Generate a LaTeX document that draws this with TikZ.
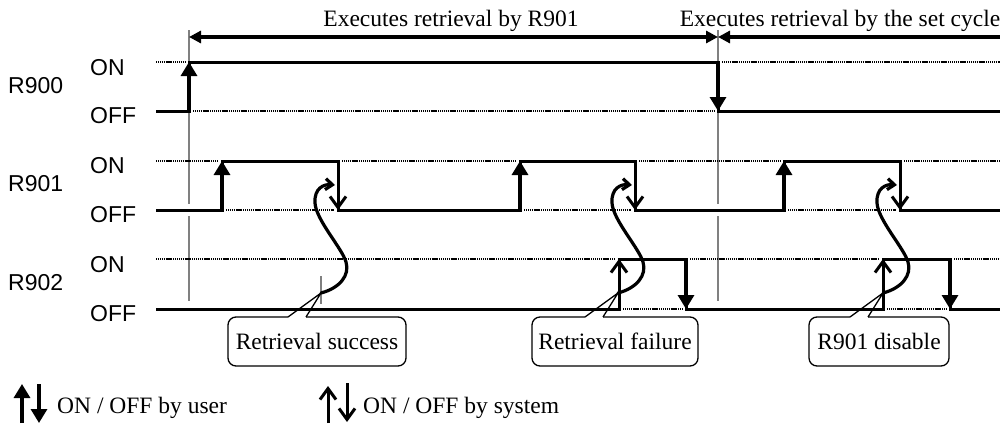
\documentclass[tikz,border=0pt]{standalone}
\usepackage{fontspec}
\setmainfont{Liberation Serif}
\newfontfamily\labelfont{Liberation Sans}
\usetikzlibrary{arrows.meta,calc}
\begin{document}
\begin{tikzpicture}[x=1pt,y=-1pt,
  wave/.style={line width=3pt, line join=miter},
  ref/.style={line width=2.2pt, dash pattern=on 1.2pt off 0.7pt},
  marker/.style={line width=1.4pt, black!50},
  user/.style={line width=3.2pt, -{Triangle[length=14pt,width=16pt]}},
  sys/.style={line width=3pt, -{Straight Barb[length=11pt,width=16pt]}},
  cause/.style={line width=3.2pt, line cap=round, -{Straight Barb[length=7pt,width=11pt]}},
  span/.style={line width=3.4pt},
  sig/.style={font=\labelfont\fontsize{23}{26}\selectfont, inner sep=0pt, anchor=west},
  txt/.style={font=\fontsize{23.5}{28}\selectfont, inner sep=0pt},
  callbox/.style={txt, draw, line width=1.3pt, rounded corners=8pt, minimum height=49pt},
  pointer/.style={line width=1.3pt},
]
\useasboundingbox (0,0) rectangle (1000,423);

% ---- signal names and levels
\node[sig] (n900) at (8,86) {R900};
\node[sig] (on900) at (90,68) {ON};
\node[sig] (off900) at (90,116) {OFF};
\node[sig] (n901) at (8,184) {R901};
\node[sig] (on901) at (90,166) {ON};
\node[sig] (off901) at (90,215) {OFF};
\node[sig] (n902) at (8,283) {R902};
\node[sig] (on902) at (90,265) {ON};
\node[sig] (off902) at (90,314) {OFF};

% ---- time markers
\draw[marker] (189,30) -- (189,204) (189,216) -- (189,301);
\draw[marker] (718,30) -- (718,204) (718,216) -- (718,301);
\draw[marker] (321,276) -- (321,304);

% ---- retrieval periods
\node[txt, anchor=base] (perA) at (451,27) {Executes retrieval by R901};
\node[txt, anchor=base] (perB) at (840,27) {Executes retrieval by the set cycle};
\coordinate (pA) at (189,37);
\coordinate (pB) at (718,37);
\coordinate (pC) at (1000,37);
\draw[span, {Triangle[length=12pt,width=12pt]}-{Triangle[length=12pt,width=12pt]}] (pA) -- (pB);
\draw[span, -{Triangle[length=12pt,width=12pt]}] (pC) -- (pB);

% ---- R900
\draw[ref] (156,62) -- (185,62) (722,62) -- (1000,62);
\draw[ref] (193,111) -- (714,111);
\draw[wave] (156,111) -- (189,111) -- (189,62) -- (718,62) -- (718,111) -- (1000,111);
\draw[user] (189,111) -- (189,62);
\draw[user] (718,62) -- (718,111);

% ---- R901
\draw[ref] (156,161) -- (218,161) (342,161) -- (516,161) (639,161) -- (780,161) (904,161) -- (1000,161);
\draw[ref] (226,210) -- (334,210) (524,210) -- (631,210) (788,210) -- (896,210);
\draw[wave] (156,210) -- (222,210) -- (222,161) -- (338,161) -- (338,210)
  -- (520,210) -- (520,161) -- (635,161) -- (635,210)
  -- (784,210) -- (784,161) -- (900,161) -- (900,210) -- (1000,210);
\foreach \r/\f in {222/338, 520/635, 784/900} {
  \draw[user] (\r,210) -- (\r,161);
  \draw[sys] (\f,161) -- (\f,210);
}

% ---- R902
\draw[ref] (156,259) -- (615,259) (690,259) -- (879,259) (954,259) -- (1000,259);
\draw[ref] (623,309) -- (682,309) (887,309) -- (946,309);
\draw[wave] (156,309) -- (619,309) -- (619,259) -- (686,259) -- (686,309)
  -- (883,309) -- (883,259) -- (950,259) -- (950,309) -- (1000,309);
\foreach \r/\f in {619/686, 883/950} {
  \draw[sys] (\r,309) -- (\r,259);
  \draw[user] (\f,259) -- (\f,309);
}

% ---- results: callouts and the turn-off of R901 they cause
\node[callbox, minimum width=178pt] (succ) at (317,341.5) {Retrieval success};
\node[callbox, minimum width=166pt] (fail) at (615,341.5) {Retrieval failure};
\node[callbox, minimum width=140pt] (dis)  at (879,341.5) {R901 disable};

\foreach \e in {338, 635, 900} {
  \coordinate (tip) at (\e-17,293);
  \coordinate (baseL) at (\e-50,317);
  \coordinate (baseR) at (\e-32,317);
  \draw[white, line width=2.4pt] (baseL) -- (baseR);
  \draw[pointer] (baseL) -- (tip) -- (baseR);
  \draw[cause] (tip) .. controls (\e+2,288) and (\e+12,275) .. (\e+8,262)
    .. controls (\e+4,248) and (\e-22,220) .. (\e-23,203)
    .. controls (\e-24,188) and (\e-14,184) .. (\e-3,185);
}

% ---- legend
\draw[user] (22,423) -- (22,384);
\draw[user] (39,384) -- (39,423);
\node[txt, anchor=base west] (leguser) at (57,413) {ON / OFF by user};
\draw[sys] (328,423) -- (328,386);
\draw[sys] (347,383) -- (347,422);
\node[txt, anchor=base west] (legsys) at (363,413) {ON / OFF by system};
\end{tikzpicture}
\end{document}
